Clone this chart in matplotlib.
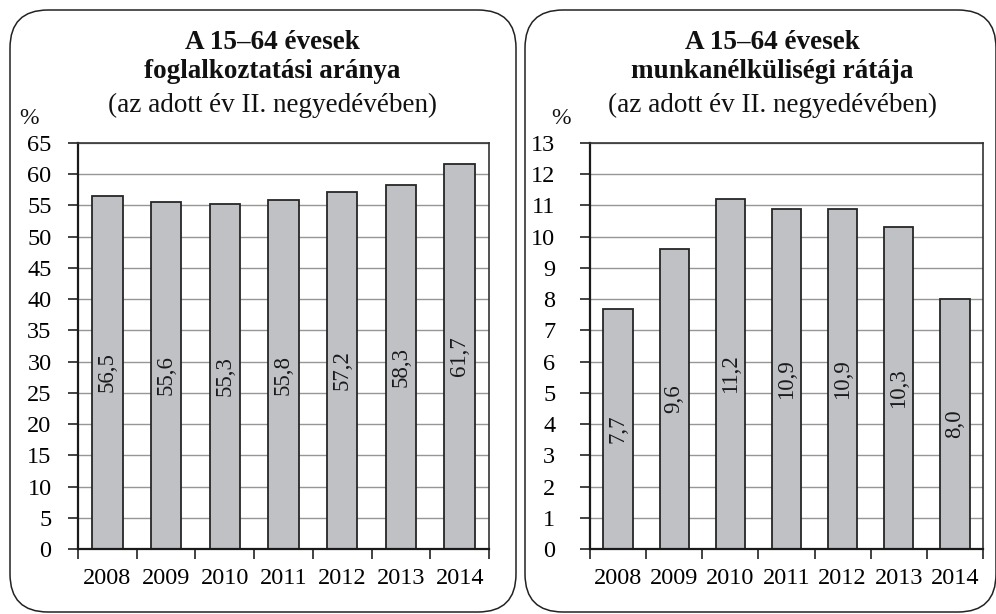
import matplotlib
matplotlib.use('Agg')
import matplotlib.pyplot as plt
from matplotlib.patches import FancyBboxPatch
import numpy as np

plt.rcParams['font.family'] = ['Liberation Serif', 'DejaVu Serif']

# data
years = ['2008', '2009', '2010', '2011', '2012', '2013', '2014']
employment = [56.5, 55.6, 55.3, 55.8, 57.2, 58.3, 61.7]
unemployment = [7.7, 9.6, 11.2, 10.9, 10.9, 10.3, 8.0]

title_left = 'A 15–64 évesek\nfoglalkoztatási aránya'
title_right = 'A 15–64 évesek\nmunkanélküliségi rátája'
subtitle = '(az adott év II. negyedévében)'

W, H = 996, 614
fig = plt.figure(figsize=(W / 100, H / 100), dpi=100)


def px(x, y):
    # pixel position (from top-left) -> figure fraction
    return x / W, 1 - y / H


# rounded frames around the two panels
for x0, x1 in [(10, 516), (525, 996)]:
    box = FancyBboxPatch((x0 / 100, 2 / 100), (x1 - x0) / 100, 6.02,
                         boxstyle='round,pad=0,rounding_size=0.38',
                         transform=fig.dpi_scale_trans, fill=False,
                         edgecolor='#222222', linewidth=1.1, clip_on=False)
    fig.add_artist(box)


def draw_panel(rect, values, ymax, step, title, cx, label_pad):
    ax = fig.add_axes(rect)
    x = np.arange(len(years))
    bars = ax.bar(x, values, width=0.52, color='#c0c1c5', edgecolor='#262626',
                  linewidth=1.3, zorder=3)
    for b, v in zip(bars, values):
        ax.text(b.get_x() + b.get_width() / 2, v / 2, f'{v:.1f}'.replace('.', ','),
                rotation=90, ha='center', va='center', fontsize=16.5,
                color='#1a1a1a', zorder=4)
    ax.set_xlim(-0.5, len(years) - 0.5)
    ax.set_ylim(0, ymax)
    ax.set_yticks(np.arange(0, ymax + step / 2, step))
    ax.yaxis.grid(True, color='#969696', linewidth=1.0, zorder=0)
    ax.set_axisbelow(True)
    ax.set_xticks(x)
    ax.set_xticklabels(years)
    ax.set_xticks(np.arange(-0.5, len(years)), minor=True)
    ax.tick_params(axis='x', which='major', length=0, pad=14, labelsize=17.5)
    ax.tick_params(axis='x', which='minor', length=7, width=1.2, color='#222222')
    ax.tick_params(axis='y', length=7, width=1.2, color='#222222',
                   pad=label_pad, labelsize=17.5)
    for s in ['left', 'bottom']:
        ax.spines[s].set_linewidth(1.6)
        ax.spines[s].set_color('#1a1a1a')
    for s in ['top', 'right']:
        ax.spines[s].set_linewidth(1.2)
        ax.spines[s].set_color('#333333')
    ax.spines['bottom'].set_zorder(5)

    tx, ty = px(cx, 57)
    fig.text(tx, ty, title, ha='center', va='center', fontsize=19.5,
             fontweight='bold', linespacing=1.2, color='#111111')
    sx, sy = px(cx, 105)
    fig.text(sx, sy, subtitle, ha='center', va='center', fontsize=19.5,
             color='#111111')
    return ax


draw_panel([78 / W, 65 / H, (489 - 78) / W, 406 / H], employment, 65, 5,
           title_left, 272, 12)
draw_panel([590 / W, 65 / H, (983 - 590) / W, 406 / H], unemployment, 13, 1,
           title_right, 772, 18)

for x in [29, 561]:
    fx, fy = px(x, 119)
    fig.text(fx, fy, '%', ha='center', va='center', fontsize=17, color='#111111')

fig.savefig('out.png', dpi=100)
